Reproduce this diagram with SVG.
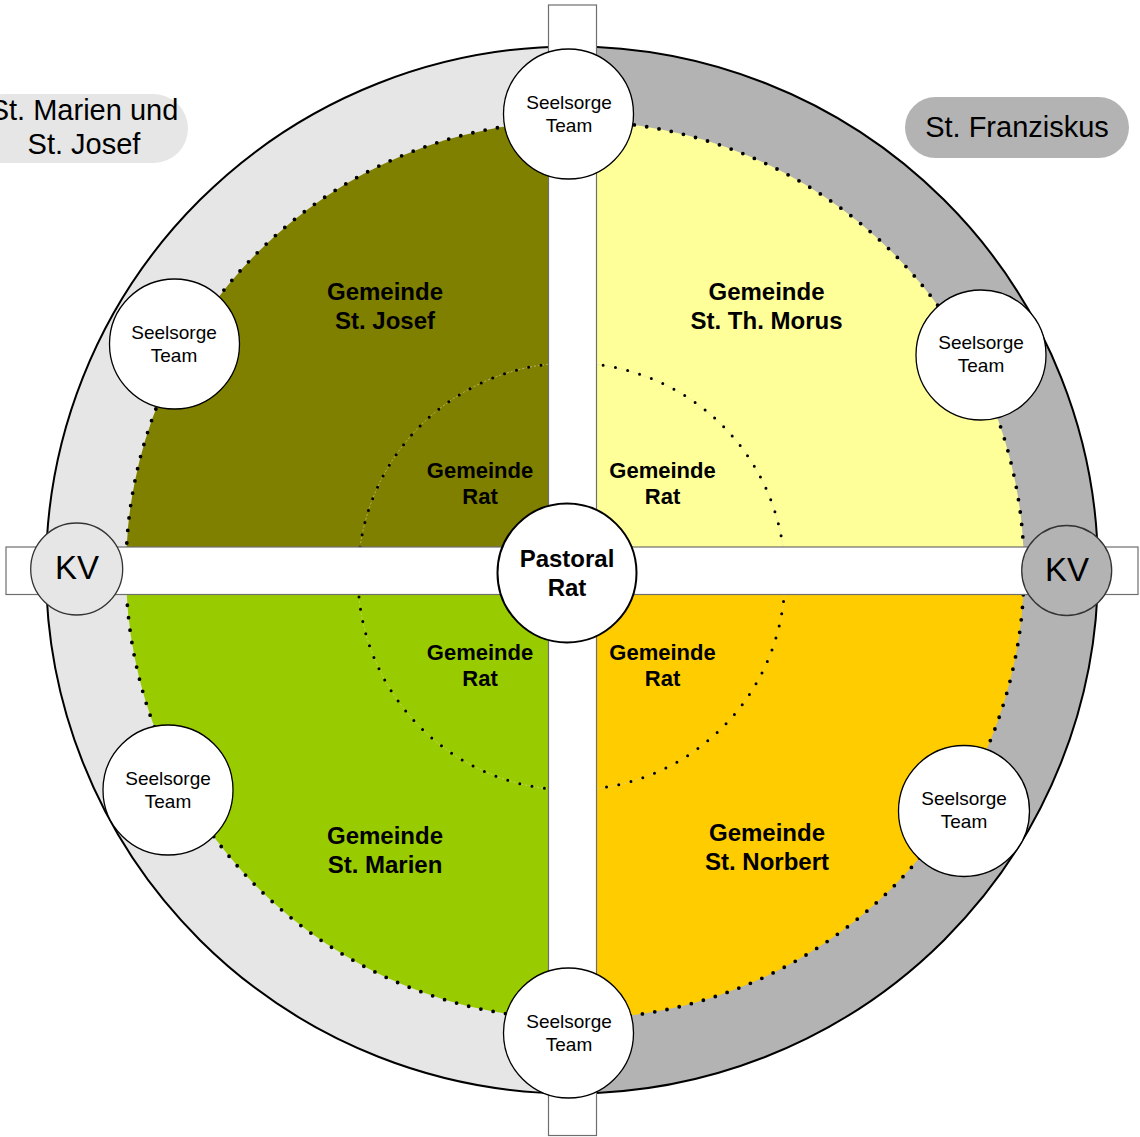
<svg xmlns="http://www.w3.org/2000/svg" width="1140" height="1137" viewBox="0 0 1140 1137">
  <style>
    .t { font-family: "Liberation Sans", Arial, sans-serif; fill: #000; text-anchor: middle; }
    .b { font-weight: bold; }
    .big { font-size: 24px; }
    .rat { font-size: 22px; }
    .team { font-size: 19px; }
    .kv { font-size: 33px; }
    .lbl { font-size: 29px; }
    .bar { fill: #fff; stroke: #6e6e6e; stroke-width: 1.2; }
    .node { fill: #fff; stroke: #000; stroke-width: 1.3; }
    .dots { fill: none; stroke: #000; stroke-width: 3.8; stroke-linecap: round; stroke-dasharray: 0 12.5; }
    .faint { fill: none; stroke: #d8d8b0; stroke-width: 0.6; stroke-dasharray: 2 2; }
  </style>

  <rect width="1140" height="1137" fill="#fff"/>

  <!-- outer ring: two halves -->
  <g id="ring">
    <path d="M572,46.5 A526,523.5 0 0 0 572,1093.5 Z" fill="#e6e6e6"/>
    <path d="M572,46.5 A526,523.5 0 0 1 572,1093.5 Z" fill="#b3b3b3"/>
    <ellipse cx="572" cy="570" rx="526" ry="523.5" fill="none" stroke="#000" stroke-width="2"/>
  </g>

  <!-- four parish quadrants -->
  <g id="quadrants">
    <path id="q-josef" d="M575,570 L126,570 A449,449 0 0 1 575,121 Z" fill="#808000"/>
    <path id="q-morus" d="M575,570 L575,121 A449,449 0 0 1 1024,570 Z" fill="#ffff99"/>
    <path id="q-norbert" d="M575,570 L1024,570 A449,449 0 0 1 575,1019 Z" fill="#ffcc00"/>
    <path id="q-marien" d="M575,570 L575,1019 A449,449 0 0 1 126,570 Z" fill="#99cc00"/>
    <circle cx="575" cy="570" r="449" class="dots"/>
    <circle cx="571.5" cy="576.5" r="213.5" class="faint"/>
    <circle cx="571.5" cy="576.5" r="213.5" class="dots" style="stroke-width:3"/>
  </g>

  <!-- connecting cross -->
  <g id="connectors">
    <rect class="bar" x="548.5" y="5" width="48" height="1130.5"/>
    <rect class="bar" x="6" y="547" width="1132" height="47.5"/>
  </g>

  <!-- parish labels -->
  <g id="label-marien-josef">
    <rect x="-30" y="94" width="218" height="69" rx="34.5" fill="#e6e6e6"/>
    <text class="t lbl" x="84" y="119.5">St. Marien und</text>
    <text class="t lbl" x="84" y="153.5">St. Josef</text>
  </g>
  <g id="label-franziskus">
    <rect x="905" y="97" width="224" height="61" rx="30.5" fill="#b3b3b3"/>
    <text class="t lbl" x="1017" y="136.5">St. Franziskus</text>
  </g>

  <!-- parish names -->
  <g id="gemeinde-josef">
    <text class="t b big" x="385" y="300">Gemeinde</text>
    <text class="t b big" x="385" y="329">St. Josef</text>
  </g>
  <g id="gemeinde-morus">
    <text class="t b big" x="766.5" y="300">Gemeinde</text>
    <text class="t b big" x="766.5" y="329">St. Th. Morus</text>
  </g>
  <g id="gemeinde-marien">
    <text class="t b big" x="385" y="844">Gemeinde</text>
    <text class="t b big" x="385" y="873">St. Marien</text>
  </g>
  <g id="gemeinde-norbert">
    <text class="t b big" x="767" y="841">Gemeinde</text>
    <text class="t b big" x="767" y="870">St. Norbert</text>
  </g>

  <!-- parish councils -->
  <g id="rat-ul">
    <text class="t b rat" x="480" y="478">Gemeinde</text>
    <text class="t b rat" x="480" y="504">Rat</text>
  </g>
  <g id="rat-ur">
    <text class="t b rat" x="662.5" y="478">Gemeinde</text>
    <text class="t b rat" x="662.5" y="504">Rat</text>
  </g>
  <g id="rat-ll">
    <text class="t b rat" x="480" y="660">Gemeinde</text>
    <text class="t b rat" x="480" y="686">Rat</text>
  </g>
  <g id="rat-lr">
    <text class="t b rat" x="662.5" y="660">Gemeinde</text>
    <text class="t b rat" x="662.5" y="686">Rat</text>
  </g>

  <!-- pastoral teams -->
  <g id="team-top">
    <circle class="node" cx="568.5" cy="114" r="65"/>
    <text class="t team" x="569" y="108.5">Seelsorge</text>
    <text class="t team" x="569" y="131.5">Team</text>
  </g>
  <g id="team-ul">
    <circle class="node" cx="174.5" cy="344" r="65"/>
    <text class="t team" x="174" y="338.5">Seelsorge</text>
    <text class="t team" x="174" y="361.5">Team</text>
  </g>
  <g id="team-ur">
    <circle class="node" cx="981" cy="355" r="65"/>
    <text class="t team" x="981" y="348.5">Seelsorge</text>
    <text class="t team" x="981" y="371.5">Team</text>
  </g>
  <g id="team-ll">
    <circle class="node" cx="168" cy="790" r="65"/>
    <text class="t team" x="168" y="784.5">Seelsorge</text>
    <text class="t team" x="168" y="807.5">Team</text>
  </g>
  <g id="team-lr">
    <circle class="node" cx="964" cy="811" r="65.5"/>
    <text class="t team" x="964" y="805">Seelsorge</text>
    <text class="t team" x="964" y="828">Team</text>
  </g>
  <g id="team-bottom">
    <circle class="node" cx="568.5" cy="1033" r="65"/>
    <text class="t team" x="569" y="1027.5">Seelsorge</text>
    <text class="t team" x="569" y="1050.5">Team</text>
  </g>

  <!-- church administration boards -->
  <g id="kv-left">
    <circle cx="76.7" cy="569" r="46" fill="#e6e6e6" stroke="#333" stroke-width="1.3"/>
    <text class="t kv" x="77" y="579">KV</text>
  </g>
  <g id="kv-right">
    <circle cx="1066.7" cy="570.5" r="45" fill="#b3b3b3" stroke="#333" stroke-width="1.3"/>
    <text class="t kv" x="1067" y="580.5">KV</text>
  </g>

  <!-- pastoral council -->
  <g id="pastoral-rat">
    <circle cx="567" cy="573" r="69.5" fill="#fff" stroke="#000" stroke-width="2"/>
    <text class="t b big" x="567" y="567">Pastoral</text>
    <text class="t b big" x="567" y="596">Rat</text>
  </g>
</svg>
